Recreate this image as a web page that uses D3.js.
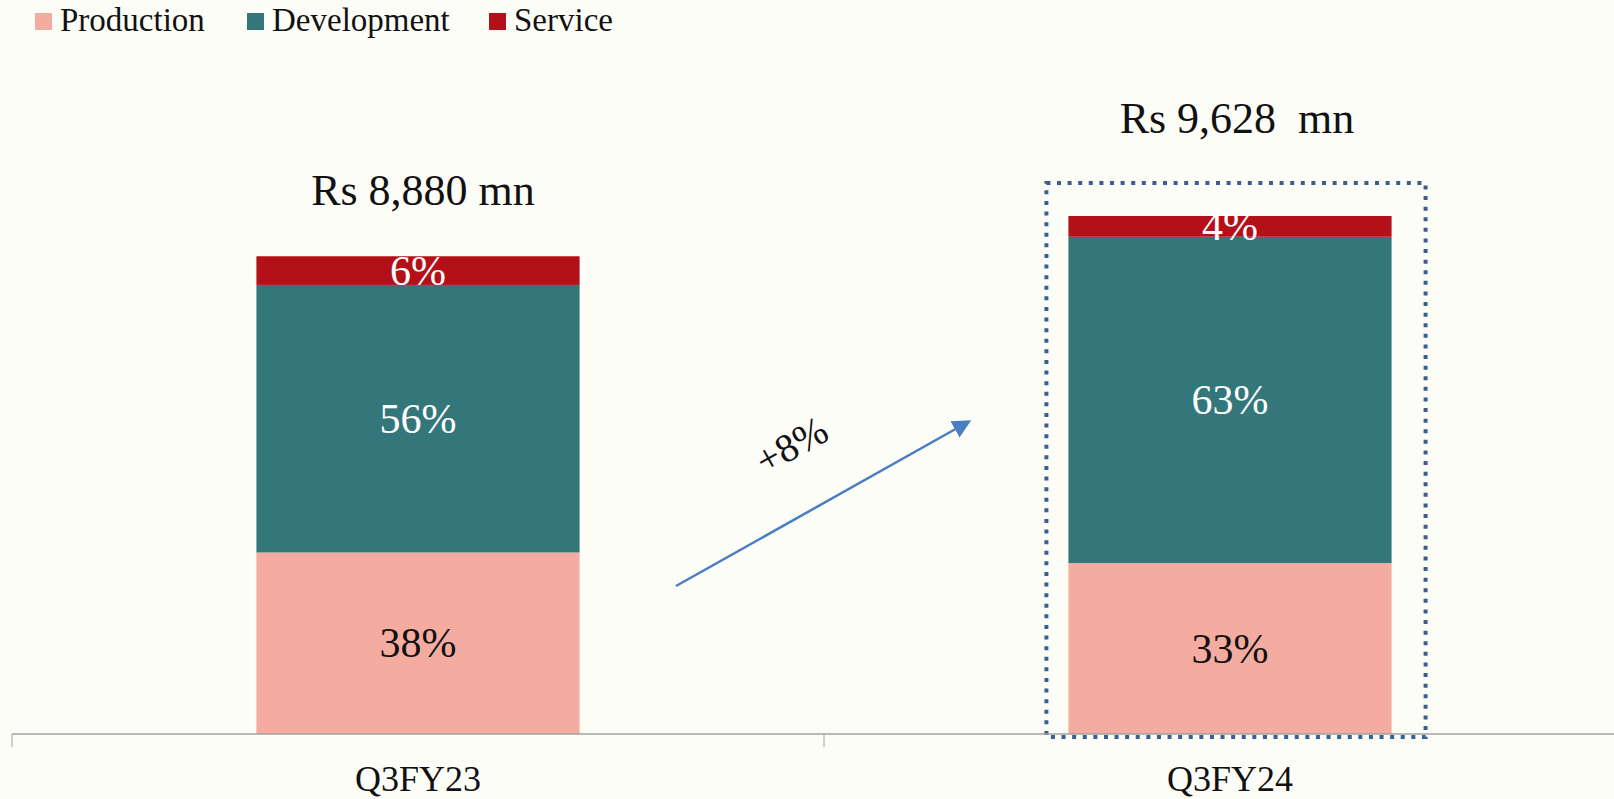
<!DOCTYPE html>
<html>
<head>
<meta charset="utf-8">
<script src="https://cdn.jsdelivr.net/npm/d3@7"></script>
<style>
  html, body { margin: 0; padding: 0; background: #FDFDF8; }
  svg { display: block; font-family: "Liberation Serif", "DejaVu Serif", serif; }
</style>
</head>
<body>
<div id="chart"></div>
<script>
// data
const categories = ["Q3FY23", "Q3FY24"];
const totals = [8880, 9628];
const keys = ["Production", "Development", "Service"];
const production = [38, 33];
const development = [56, 63];
const service = [6, 4];
const colors = ["#F4ABA0", "#33777B", "#B41018"];
const labelColors = ["#111", "#fff", "#fff"];

const width = 1614, height = 799;
const axisY = 734;

const rows = categories.map((c, i) => ({
    cat: c,
    total: totals[i],
    Production: totals[i] * production[i] / 100,
    Development: totals[i] * development[i] / 100,
    Service: totals[i] * service[i] / 100,
    pct: { Production: production[i], Development: development[i], Service: service[i] }
}));

const svg = d3.select("#chart").append("svg")
    .attr("width", width)
    .attr("height", height);

const x = d3.scaleBand()
    .domain(categories)
    .range([12, 1636])
    .padding(0);

const y = d3.scaleLinear()
    .domain([0, 10000])
    .range([axisY, 196]);

const barW = x.bandwidth() * 0.398;
const color = d3.scaleOrdinal().domain(keys).range(colors);

const stack = d3.stack().keys(keys);
const series = stack(rows);

// bars
const layer = svg.append("g").selectAll("g")
    .data(series)
    .enter().append("g")
    .attr("fill", d => color(d.key));

layer.selectAll("rect")
    .data(d => d)
    .enter().append("rect")
    .attr("x", d => x(d.data.cat) + x.bandwidth() / 2 - barW / 2)
    .attr("y", d => y(d[1]))
    .attr("width", barW)
    .attr("height", d => y(d[0]) - y(d[1]));

// segment labels
series.forEach((s, k) => {
    svg.append("g").selectAll("text")
        .data(s)
        .enter().append("text")
        .attr("x", d => x(d.data.cat) + x.bandwidth() / 2)
        .attr("y", d => (y(d[0]) + y(d[1])) / 2 + 14)
        .attr("text-anchor", "middle")
        .attr("font-size", 42)
        .attr("fill", labelColors[k])
        .text(d => d.data.pct[s.key] + "%");
});

// highlight box around latest bar
const last = rows[1];
const bx0 = x(last.cat) + x.bandwidth() / 2 - barW / 2 - 22;
const bx1 = x(last.cat) + x.bandwidth() / 2 + barW / 2 + 34;
const by0 = y(last.total) - 33;
svg.append("rect")
    .attr("x", bx0)
    .attr("y", by0)
    .attr("width", bx1 - bx0)
    .attr("height", axisY + 3 - by0)
    .attr("fill", "none")
    .attr("stroke", "#3A5E8E")
    .attr("stroke-width", 4)
    .attr("stroke-dasharray", "4 6.6");

// totals
const titleBase = [y(rows[0].total) - 51, by0 - 50];
svg.append("g").selectAll("text")
    .data(rows)
    .enter().append("text")
    .attr("x", (d, i) => x(d.cat) + x.bandwidth() / 2 + (i === 0 ? 5 : 7))
    .attr("y", (d, i) => titleBase[i])
    .attr("text-anchor", "middle")
    .attr("font-size", 44)
    .attr("fill", "#111")
    .style("white-space", "pre")
    .text((d, i) => "Rs " + d3.format(",")(d.total) + (i === 1 ? "  mn" : " mn"));

// axis
const ax = svg.append("g");
ax.append("line")
    .attr("x1", 12).attr("x2", width)
    .attr("y1", axisY).attr("y2", axisY)
    .attr("stroke", "#A0A0A0").attr("stroke-width", 1.5);
ax.selectAll(".tick")
    .data(categories)
    .enter().append("line")
    .attr("x1", d => x(d)).attr("x2", d => x(d))
    .attr("y1", axisY).attr("y2", axisY + 13)
    .attr("stroke", "#A0A0A0").attr("stroke-width", 1);
ax.selectAll("text")
    .data(categories)
    .enter().append("text")
    .attr("x", d => x(d) + x.bandwidth() / 2)
    .attr("y", 791)
    .attr("text-anchor", "middle")
    .attr("font-size", 36)
    .attr("fill", "#111")
    .text(d => d);

// growth arrow
const growth = Math.round((totals[1] / totals[0] - 1) * 100);
const defs = svg.append("defs");
defs.append("marker")
    .attr("id", "arrow")
    .attr("viewBox", "0 0 10 10")
    .attr("refX", 8).attr("refY", 5)
    .attr("markerWidth", 7.5).attr("markerHeight", 7.5)
    .attr("orient", "auto")
    .append("path")
    .attr("d", "M0,0L10,5L0,10Z")
    .attr("fill", "#4A7DC2");

const a0 = [676, 586], a1 = [968, 422];
svg.append("line")
    .attr("x1", a0[0]).attr("y1", a0[1])
    .attr("x2", a1[0]).attr("y2", a1[1])
    .attr("stroke", "#4A7DC2")
    .attr("stroke-width", 2.5)
    .attr("marker-end", "url(#arrow)");

const ang = Math.atan2(a1[1] - a0[1], a1[0] - a0[0]) * 180 / Math.PI;
svg.append("text")
    .attr("transform", `translate(798,457) rotate(${ang})`)
    .attr("text-anchor", "middle")
    .attr("font-size", 40)
    .attr("fill", "#111")
    .text("+" + growth + "%");

// legend
const legX = [35, 247, 489];
const leg = svg.append("g").selectAll("g")
    .data(keys)
    .enter().append("g")
    .attr("transform", (d, i) => `translate(${legX[i]},13)`);
leg.append("rect")
    .attr("width", 17).attr("height", 17)
    .attr("fill", d => color(d));
leg.append("text")
    .attr("x", 25).attr("y", 18)
    .attr("font-size", 33)
    .attr("fill", "#111")
    .text(d => d);
</script>
</body>
</html>
